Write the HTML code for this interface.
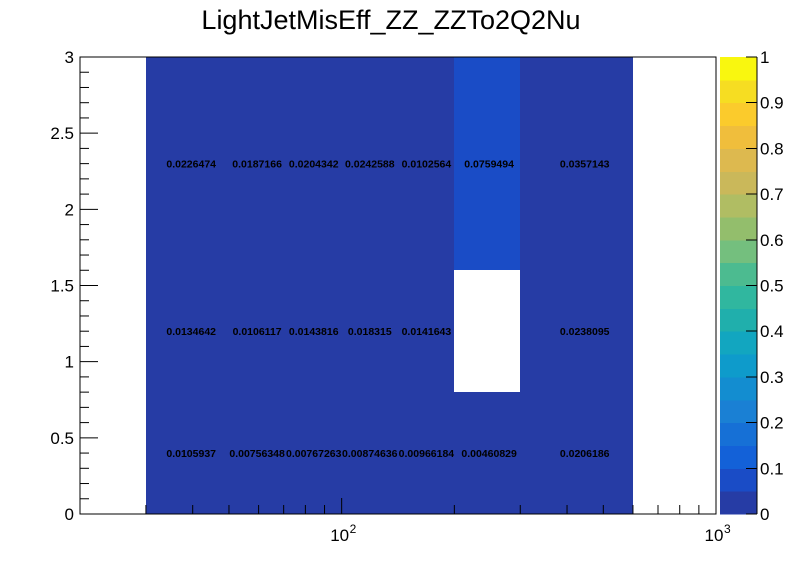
<!DOCTYPE html>
<html><head><meta charset="utf-8"><style>
body{margin:0;background:#fff;}
svg{display:block;font-family:"Liberation Sans",Arial,sans-serif;}
</style></head><body>
<svg id="c" width="796" height="572" viewBox="0 0 796 572">
<text x="391" y="29" font-size="27" text-anchor="middle">LightJetMisEff_ZZ_ZZTo2Q2Nu</text>
<g id="cells" shape-rendering="crispEdges"></g>
<g id="labels"></g>
<rect x="80" y="57" width="636" height="457" fill="none" stroke="#000" stroke-width="1"/>
<g id="axes"></g>
<g id="cbar" shape-rendering="crispEdges"></g>
</svg>
<script>
const xEdges=[30,50,70,100,140,200,300,600];
const yEdges=[0,0.8,1.6,3.0];
// values[row][col], row 0 = bottom; null = empty
const values=[
 [0.0105937,0.00756348,0.00767263,0.00874636,0.00966184,0.00460829,0.0206186],
 [0.0134642,0.0106117,0.0143816,0.018315,0.0141643,null,0.0238095],
 [0.0226474,0.0187166,0.0204342,0.0242588,0.0102564,0.0759494,0.0357143]
];
const labels=[
 ["0.0105937","0.00756348","0.00767263","0.00874636","0.00966184","0.00460829","0.0206186"],
 ["0.0134642","0.0106117","0.0143816","0.018315","0.0141643","","0.0238095"],
 ["0.0226474","0.0187166","0.0204342","0.0242588","0.0102564","0.0759494","0.0357143"]
];
const yTicks=[0,0.5,1,1.5,2,2.5,3];
const zTicks=[0,0.1,0.2,0.3,0.4,0.5,0.6,0.7,0.8,0.9,1];
const palette=["#263ca5","#1a4cc6","#1361d8","#1670d6","#1a80d4","#138dd0","#0e9bcb","#12a6c0","#20afac","#30b79f","#4cbb90","#74bf7e","#93be6c","#b0bd63","#cab85a","#ddb94f","#f0be3c","#fbcb2c","#f6dd22","#f9f70f"];
const X0=80,X1=716,Y0=514,Y1=57,xmin=20,xmax=1000,ymin=0,ymax=3;
const NS="http://www.w3.org/2000/svg";
function sx(v){return X0+(Math.log10(v)-Math.log10(xmin))/(Math.log10(xmax)-Math.log10(xmin))*(X1-X0);}
function sy(v){return Y0-(v-ymin)/(ymax-ymin)*(Y0-Y1);}
function mk(t,a,p){const e=document.createElementNS(NS,t);for(const k in a)e.setAttribute(k,a[k]);p.appendChild(e);return e;}
function col(v){let i=Math.floor(v*20);if(i>19)i=19;if(i<0)i=0;return palette[i];}
const cells=document.getElementById('cells'),lab=document.getElementById('labels');
for(let r=0;r<values.length;r++)for(let c=0;c<values[r].length;c++){
 const v=values[r][c];
 if(v!==null){
  const x=Math.round(sx(xEdges[c])),x2=Math.round(sx(xEdges[c+1])),y=Math.round(sy(yEdges[r+1])),y2=Math.round(sy(yEdges[r]));
  const e=mk('rect',{x:x,y:y,width:x2-x,height:y2-y,fill:col(v)},cells);
  
  
 }
 if(labels[r][c]){
  const cx=sx((xEdges[c]+xEdges[c+1])/2)-1.5, cy=(sy(yEdges[r])+sy(yEdges[r+1]))/2;
  const t=mk('text',{x:cx,y:cy+4,'font-size':10.5,'font-weight':'bold','text-anchor':'middle'},lab);
  t.textContent=labels[r][c];
  
  
 }
}
const ax=document.getElementById('axes');
for(let d=1;d<=3;d++)for(let m=1;m<=9;m++){
 const v=m*Math.pow(10,d);if(v<xmin||v>xmax)continue;
 const x=sx(v),len=(m===1)?16:9;
 const l=mk('line',{x1:x,y1:Y0,x2:x,y2:Y0-len,stroke:'#000'},ax);
 
 
 if(m===1){
  const t=mk('text',{x:x-2,y:Y0+27,'font-size':17,'text-anchor':'middle'},ax);
  t.textContent='10';
  
  
  const s=mk('text',{x:x+8,y:Y0+19,'font-size':12},ax);
  s.textContent=String(d);
  
  
 }
}
for(let i=0;i<=30;i++){
 const v=i/10,y=sy(v),major=(i%5===0);
 const l=mk('line',{x1:X0,y1:y,x2:X0+(major?18:9),y2:y,stroke:'#000'},ax);
 
 
}
yTicks.forEach(v=>{
 const t=mk('text',{x:X0-6,y:sy(v)+6,'font-size':17,'text-anchor':'end'},ax);
 t.textContent=String(v);
 
 
});
const cb=document.getElementById('cbar'),CX0=720,CX1=757;
for(let i=0;i<20;i++){
 const y=Y0-(i+1)/20*(Y0-Y1),h=(Y0-Y1)/20;
 const r=mk('rect',{x:CX0,y:y,width:CX1-CX0,height:h+0.5,fill:palette[i]},cb);
 
 
}
zTicks.forEach(v=>{
 const y=Y0-v*(Y0-Y1);
 const l=mk('line',{x1:CX1-11,y1:y,x2:CX1,y2:y,stroke:'#000'},cb);
 
 
 const t=mk('text',{x:CX1+3,y:y+6,'font-size':17},cb);
 t.textContent=String(v);
 
 
});
const ab=mk('line',{x1:CX1,y1:Y1,x2:CX1,y2:Y0,stroke:'#000'},cb);


</script>
</body></html>
